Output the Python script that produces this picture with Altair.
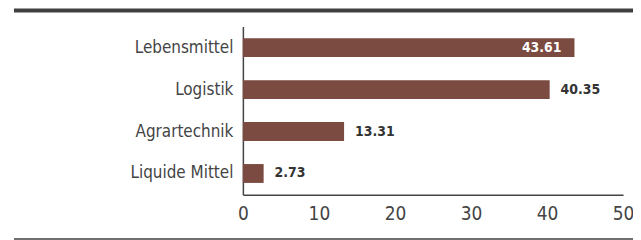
import altair as alt
import pandas as pd

categories = ["Lebensmittel", "Logistik", "Agrartechnik", "Liquide Mittel"]
values = [43.61, 40.35, 13.31, 2.73]
label_inside = [True, False, False, False]

df = pd.DataFrame({"cat": categories, "val": values, "inside": label_inside})

FONT = "DejaVu Sans Condensed"
BAR = "#7b4a41"

y_enc = alt.Y("cat:N", sort=categories, title=None,
              axis=alt.Axis(labelFont=FONT, labelFontSize=17, labelColor="#444444",
                            labelPadding=10, ticks=False, domainColor="#444444",
                            domainWidth=1.5))
x_scale = alt.Scale(domain=[0, 50], nice=False)

bars = alt.Chart(df).mark_bar(color=BAR).encode(
    x=alt.X("val:Q", scale=x_scale, title=None,
            axis=alt.Axis(values=[0, 10, 20, 30, 40, 50], labelFont=FONT, labelFontSize=19,
                          labelColor="#444444", ticks=False, grid=False, labelPadding=10,
                          domainColor="#444444", domainWidth=1.5, labelFlush=False)),
    y=y_enc,
)

out_labels = alt.Chart(df).transform_filter("!datum.inside").mark_text(
    align="left", dx=11, font=FONT, fontSize=14, fontWeight="bold", color="#333333"
).encode(x="val:Q", y=alt.Y("cat:N", sort=categories), text=alt.Text("val:Q", format=".2f"))

in_labels = alt.Chart(df).transform_filter("datum.inside").mark_text(
    align="right", dx=-13, font=FONT, fontSize=14, fontWeight="bold", color="white"
).encode(x="val:Q", y=alt.Y("cat:N", sort=categories), text=alt.Text("val:Q", format=".2f"))

rule_df = pd.DataFrame({"a": [0]})
top_rule = alt.Chart(rule_df).mark_rule(color="#404040", strokeWidth=4, clip=False).encode(
    x=alt.value(-230), x2=alt.value(396), y=alt.value(-16))
bottom_rule = alt.Chart(rule_df).mark_rule(color="#404040", strokeWidth=1.5, clip=False).encode(
    x=alt.value(-230), x2=alt.value(396), y=alt.value(213.5))

chart = alt.layer(bars, out_labels, in_labels, top_rule, bottom_rule).properties(
    width=382, height=169,
    padding={"left": 236, "top": 18, "right": 10, "bottom": 48},
    autosize=alt.AutoSizeParams(type="none"),
).configure_view(stroke=None).configure_scale(bandPaddingInner=0.55, bandPaddingOuter=0.28)

chart.save("out.html", embed_options={"renderer": "svg", "actions": False})
